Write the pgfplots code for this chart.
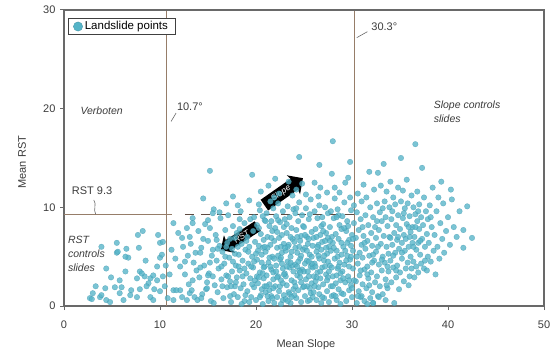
\documentclass[border=0pt]{standalone}
\usepackage{fontspec}
\setmainfont{Liberation Sans}
\usepackage{pgfplots}
\pgfplotsset{compat=1.18}
\usetikzlibrary{shapes.arrows}
\definecolor{axisgray}{RGB}{105,105,105}
\definecolor{labelgray}{RGB}{60,60,60}
\definecolor{thr}{RGB}{150,125,105}
\definecolor{dashc}{RGB}{95,75,65}
\definecolor{ptfill}{RGB}{85,180,200}
\definecolor{ptdraw}{RGB}{55,145,170}
\begin{document}
\begin{tikzpicture}
\useasboundingbox (-64pt,-50pt) rectangle (492pt,306pt);
\begin{axis}[
  scale only axis, width=480pt, height=296pt,
  xmin=0, xmax=50, ymin=0, ymax=30,
  xtick={0,10,20,30,40,50}, ytick={0,10,20,30},
  tick align=outside, xtick pos=bottom, ytick pos=left,
  major tick length=4pt,
  axis line style={draw=axisgray, line width=1.1pt},
  every tick/.style={draw=axisgray, line width=1pt},
  /pgf/number format/assume math mode=true,
  ticklabel style={font=\fontsize{11}{13}\selectfont, text=labelgray},
  xticklabel style={yshift=-7pt},
  yticklabel style={xshift=-1pt},
  xlabel={Mean Slope}, ylabel={Mean RST},
  label style={font=\fontsize{11}{13}\selectfont, text=labelgray},
  xlabel style={at={(axis description cs:0.504,-0.132)}, anchor=center},
  ylabel style={at={(axis description cs:-0.0875,0.486)}, anchor=center},
  legend style={at={(axis description cs:0.008,0.973)}, anchor=north west,
    draw=black!75, line width=0.8pt, font=\fontsize{11.5}{13}\selectfont,
    inner xsep=5pt, inner ysep=1.2pt},
  legend image code/.code={\draw[fill=ptfill, draw=ptfill!85!black, line width=0.4pt] (0.22cm,0cm) circle (4.6pt);},
  clip=false,
]
\addplot[only marks, mark=*, mark size=2.8pt,
  mark options={fill=ptfill, draw=ptdraw, line width=0.3pt, fill opacity=0.78, draw opacity=0.6}]
coordinates {
(2.7,0.8) (2.9,0.7) (3.0,1.3) (3.75,0.9) (3.9,1.1) (4.3,1.8) (4.4,0.6) (4.8,0.4) (5.3,1.9) (5.8,2.6)
(6.2,0.6) (6.4,3.5) (3.9,6.0) (5.5,6.4) (5.5,5.4) (6.5,5.8) (6.7,4.9) (6.4,5.0) (7.7,7.2) (8.2,7.6)
(7.8,5.9) (7.0,1.6) (7.9,1.7) (6.9,1.1) (9.0,0.9) (9.8,7.2) (10.0,6.4) (10.0,4.9) (9.7,4.0) (7.9,3.5)
(8.4,3.0) (9.0,2.8) (7.6,2.8) (8.8,2.3) (9.7,2.6) (10.3,3.0) (10.0,1.5) (11.4,8.4) (11.9,7.4) (12.4,6.0)
(11.6,4.8) (11.4,1.6) (12.1,1.6) (12.8,0.6) (4.4,3.8) (5.8,1.3) (7.6,0.9) (8.6,2.0) (8.1,3.3) (9.3,3.1)
(10.2,5.2) (10.3,6.5) (9.3,0.6) (10.5,2.0) (11.2,5.7) (5.6,5.5) (3.3,2.0) (4.9,2.9) (8.5,4.6) (9.4,1.7)
(10.6,4.1) (11.0,3.2) (10.8,0.8) (6.0,1.9)
(12.6,3.2) (12.9,5.1) (13.0,2.2) (13.2,6.3) (13.5,4.4) (13.6,0.9) (13.8,3.6) (14.0,7.6) (14.1,2.9) (14.3,5.9)
(14.4,1.2) (14.6,4.1) (14.7,8.3) (14.9,2.4) (15.0,6.6) (15.1,3.3) (15.3,0.5) (15.4,5.1) (15.6,9.8) (15.7,2.1)
(15.8,7.2) (15.9,4.6) (16.0,1.4) (16.1,3.8) (16.2,6.1) (16.3,8.9) (16.4,2.7) (16.5,5.5) (16.6,0.8) (16.7,4.3)
(16.8,7.7) (16.9,3.1) (17.0,1.9) (17.0,6.4) (17.1,9.2) (17.2,4.9) (17.3,2.5) (17.4,0.4) (17.5,5.8) (17.5,3.5)
(17.6,8.1) (17.7,1.2) (17.8,6.9) (17.9,4.1) (18.0,2.9) (18.0,7.4) (18.1,0.9) (18.2,5.2) (18.3,3.6) (18.4,9.6)
(18.4,1.8) (18.5,6.3) (18.6,4.6) (18.7,2.2) (18.8,8.4) (18.8,0.5) (18.9,5.7) (19.0,3.3) (19.1,7.0) (19.1,1.5)
(19.2,4.3) (19.3,6.0) (19.4,2.8) (19.4,8.8) (19.5,0.9) (19.6,5.0) (19.7,3.9) (19.7,7.6) (19.8,1.9) (19.9,6.5)
(19.9,2.6) (12.8,7.9) (13.1,1.3) (13.4,8.9) (13.7,5.4) (13.9,0.6) (14.2,3.9) (14.5,6.8) (14.8,1.7) (15.2,7.9)
(15.5,3.0) (15.6,0.3) (16.0,5.8) (16.2,9.5) (16.5,2.0) (16.8,5.0) (17.1,3.0) (17.3,6.8) (17.6,4.5) (17.8,2.0)
(18.1,6.0) (18.3,8.8) (18.6,3.0) (18.9,1.1) (19.2,5.5) (19.5,4.0) (19.8,9.0) (15.2,13.7) (19.6,13.3) (14.5,10.9)
(17.6,11.1) (18.1,10.2) (16.9,10.4) (19.3,10.7) (12.3,6.9) (12.1,4.0) (12.6,4.5) (11.7,1.6) (12.3,0.9) (11.4,0.6)
(13.3,1.6) (13.4,2.6) (13.1,7.0) (13.4,8.4) (14.3,0.8) (14.9,1.8) (15.0,3.1) (15.2,4.4) (14.2,5.4) (15.5,5.7)
(15.9,6.7) (15.0,8.7) (15.5,9.4)
(20.0,0.6) (20.1,4.7) (20.1,8.2) (20.2,2.3) (20.3,6.1) (20.3,10.3) (20.4,3.4) (20.5,1.1) (20.5,7.3) (20.6,5.2)
(20.7,9.1) (20.7,0.2) (20.8,2.8) (20.8,6.7) (20.9,4.0) (20.9,8.7) (20.2,5.6) (20.4,9.7) (20.6,1.7) (20.8,3.9)
(20.3,7.9) (20.6,4.4) (20.9,2.0) (20.1,3.0) (20.7,5.9) (20.5,11.6)
(21.0,1.4) (21.0,5.5) (21.1,3.1) (21.1,9.4) (21.2,7.0) (21.3,0.5) (21.3,4.4) (21.4,2.2) (21.4,8.1) (21.5,6.2)
(21.5,10.6) (21.6,1.0) (21.6,3.7) (21.7,5.0) (21.7,7.6) (21.8,2.7) (21.8,9.9) (21.9,0.3) (21.9,4.8) (21.9,6.6)
(21.2,5.9) (21.4,1.6) (21.6,8.6) (21.8,3.4) (21.1,2.0) (21.5,4.0) (21.7,0.8) (21.3,12.2) (21.9,11.0)
(22.0,2.0) (22.0,7.9) (22.1,4.1) (22.1,9.1) (22.2,0.9) (22.2,5.9) (22.3,3.0) (22.3,10.4) (22.4,6.9) (22.4,1.5)
(22.5,4.7) (22.5,8.5) (22.6,2.6) (22.6,0.2) (22.7,5.4) (22.7,7.2) (22.8,3.8) (22.8,9.6) (22.9,1.1) (22.9,6.3)
(22.1,3.5) (22.3,5.1) (22.5,2.0) (22.7,4.3) (22.9,8.0) (22.2,7.5) (22.6,6.0) (22.8,0.6) (22.4,11.4) (22.0,12.9)
(23.0,3.3) (23.0,8.8) (23.1,5.6) (23.1,0.7) (23.2,2.1) (23.2,7.4) (23.3,4.5) (23.3,10.1) (23.4,1.4) (23.4,6.2)
(23.5,3.9) (23.5,9.0) (23.6,0.3) (23.6,5.0) (23.7,2.6) (23.7,7.9) (23.8,4.1) (23.8,6.8) (23.9,1.7) (23.9,9.8)
(23.1,3.0) (23.3,6.0) (23.5,1.2) (23.7,5.5) (23.9,3.5) (23.2,8.3) (23.6,4.4) (23.8,11.2) (23.4,12.6)
(24.0,2.4) (24.0,6.5) (24.1,4.2) (24.1,9.4) (24.2,0.8) (24.2,7.7) (24.3,3.1) (24.3,5.4) (24.4,1.6) (24.4,8.6)
(24.5,6.0) (24.5,10.5) (24.6,2.9) (24.6,4.8) (24.7,0.4) (24.7,7.1) (24.8,3.7) (24.8,9.2) (24.9,5.7) (24.9,1.9)
(24.1,2.0) (24.3,7.0) (24.5,3.6) (24.7,5.1) (24.9,8.1) (24.2,11.8) (24.5,15.1) (24.8,12.4) (24.4,4.5) (24.6,6.6)
(25.0,3.5) (25.0,8.0) (25.1,1.0) (25.1,5.9) (25.2,2.7) (25.2,9.9) (25.3,4.6) (25.3,7.0) (25.4,0.5) (25.4,6.3)
(25.5,3.0) (25.5,8.8) (25.6,1.8) (25.6,5.2) (25.7,4.0) (25.7,10.8) (25.8,2.3) (25.8,7.5) (25.9,0.9) (25.9,6.1)
(25.1,4.3) (25.3,2.0) (25.5,6.8) (25.7,1.3) (25.9,3.9) (25.2,11.3) (25.6,9.3) (25.8,5.0) (25.4,3.5)
(26.0,1.4) (26.0,6.9) (26.1,4.3) (26.1,9.6) (26.2,2.5) (26.2,7.8) (26.3,0.6) (26.3,5.5) (26.4,3.4) (26.4,8.9)
(26.5,1.9) (26.5,6.2) (26.6,4.8) (26.6,10.2) (26.7,2.8) (26.7,7.2) (26.8,0.3) (26.8,5.7) (26.9,3.9) (26.9,9.0)
(26.1,12.5) (26.6,14.3) (26.7,12.0) (26.2,4.0) (26.4,6.0) (26.6,1.2) (26.8,8.1) (26.3,2.9) (26.9,6.5) (26.5,11.1)
(27.0,2.2) (27.0,8.3) (27.1,4.6) (27.1,0.8) (27.2,6.6) (27.2,10.0) (27.3,3.2) (27.3,7.4) (27.4,1.5) (27.4,5.3)
(27.5,9.4) (27.5,2.9) (27.6,0.4) (27.6,6.0) (27.7,4.1) (27.7,8.0) (27.8,2.0) (27.8,5.6) (27.9,13.4) (27.9,7.0)
(28.0,16.7) (27.2,4.0) (27.4,11.5) (27.6,3.5) (27.8,9.6) (27.3,5.9) (27.9,1.0) (27.5,6.9)
(28.0,3.0) (28.0,6.4) (28.1,1.1) (28.1,8.9) (28.2,4.8) (28.2,10.9) (28.3,2.3) (28.3,7.3) (28.4,0.6) (28.4,5.6)
(28.5,3.8) (28.5,9.8) (28.6,1.7) (28.6,6.8) (28.7,4.4) (28.7,8.2) (28.8,2.6) (28.8,0.2) (28.9,5.2) (28.9,7.8)
(28.2,12.0) (28.5,5.0) (28.7,11.5) (28.4,3.1) (28.6,9.2) (28.9,1.3)
(29.0,3.5) (29.0,9.1) (29.1,1.2) (29.1,6.0) (29.2,4.2) (29.2,10.5) (29.3,12.5) (29.3,2.4) (29.4,7.6) (29.4,0.5)
(29.5,5.1) (29.5,8.6) (29.6,13.0) (29.6,3.0) (29.7,6.7) (29.7,1.6) (29.8,14.6) (29.8,11.0) (29.8,4.7) (29.9,9.7)
(29.9,2.1) (30.0,7.2) (30.0,0.9) (30.1,5.6) (30.1,3.8) (30.2,8.4) (30.2,10.2) (29.5,6.4) (29.9,5.0) (30.0,1.8)
(29.2,7.9) (29.7,4.0)
(30.4,2.5) (30.4,6.9) (30.5,0.3) (30.5,9.5) (30.6,4.3) (30.6,11.4) (30.7,1.5) (30.7,7.7) (30.8,5.4) (30.8,3.1)
(30.9,8.8) (30.9,0.9) (31.0,6.2) (31.0,10.6) (31.1,2.2) (31.1,4.9) (31.2,12.3) (31.2,7.1) (31.3,0.5) (31.3,3.7)
(31.4,9.2) (31.4,5.8) (31.5,1.8) (31.5,11.0) (31.6,6.6) (31.6,4.0) (31.7,8.2) (31.7,2.8) (31.8,13.6) (31.8,5.1)
(31.9,0.8) (31.9,10.0) (32.0,3.4) (32.0,7.4) (32.1,6.1) (32.1,1.4) (32.2,9.0) (32.2,0.3) (32.3,4.6) (32.3,11.8)
(32.4,2.4) (32.4,8.0) (32.5,5.5) (32.5,6.9) (32.6,3.0) (32.6,10.4) (32.7,13.5) (32.7,1.0) (32.8,7.7) (32.8,4.2)
(32.9,9.5) (32.9,2.0) (33.0,6.3) (33.0,12.2) (33.1,3.6) (33.1,8.6) (33.2,5.0) (33.2,1.2) (33.3,14.4) (33.3,7.1)
(33.4,10.6) (33.4,4.4) (33.5,2.7) (33.5,9.0) (33.6,6.0) (33.6,11.6) (33.7,1.8) (33.7,8.1) (33.8,5.3) (33.8,3.5)
(33.9,10.0) (33.9,7.0) (34.0,4.6) (34.0,12.6) (34.1,2.4) (34.1,8.8) (34.2,6.2) (34.2,9.6) (34.3,3.9) (34.3,11.0)
(34.4,0.3) (34.4,7.4) (34.5,5.4) (34.5,10.3) (34.6,2.9) (34.6,8.2) (34.7,6.7) (34.7,4.1) (34.8,12.0) (34.8,9.2)
(34.9,5.8) (34.9,1.7) (35.0,7.8) (35.0,3.4) (35.1,15.0) (35.1,10.6) (35.2,6.4) (35.2,4.8) (35.3,8.9) (35.3,11.7)
(35.4,2.5) (35.4,7.2) (35.5,5.6) (35.5,9.9) (35.6,3.8) (35.6,6.8) (35.7,12.8) (35.7,8.3) (35.8,4.4) (35.8,10.4)
(35.9,6.0) (35.9,2.1) (36.0,3.0) (36.0,9.1) (36.1,7.5) (36.1,5.0) (36.2,11.2) (36.2,3.8) (36.3,8.0) (36.3,6.4)
(36.4,4.5) (36.4,10.0) (36.5,7.0) (36.5,2.9) (36.6,16.4) (36.6,9.3) (36.7,5.7) (36.7,4.0) (36.8,8.6) (36.8,11.6)
(36.9,6.4) (36.9,3.4) (37.0,7.8) (37.0,10.3) (37.1,5.2) (37.2,9.0) (37.2,4.3) (37.3,14.0) (37.3,6.8) (37.4,8.2)
(37.5,3.8) (37.5,11.0) (37.6,6.0) (37.7,9.6) (37.8,3.6) (37.8,7.3) (37.9,5.0) (37.9,8.8)
(31.0,1.0) (31.6,0.2) (32.8,0.9) (33.5,0.6) (32.2,0.3)
(38.0,6.4) (38.1,10.2) (38.2,4.5) (38.3,8.0) (38.4,12.0) (38.5,5.6) (38.6,7.2) (38.7,3.2) (38.8,9.6) (38.9,6.0)
(39.0,11.0) (39.1,4.8) (39.2,8.4) (39.4,6.8) (39.5,10.4) (39.6,5.4) (39.8,7.6) (40.0,9.0) (40.2,6.2) (40.4,10.8)
(40.6,8.0) (40.9,7.0) (41.2,9.6) (41.6,5.9) (41.6,7.7) (42.0,10.1) (42.5,6.9) (39.3,12.6) (40.3,11.8)
(17.3,1.0) (17.9,2.4) (18.5,0.2) (18.2,4.0) (19.0,6.6) (19.6,2.2) (20.4,0.9) (20.0,5.3) (20.7,3.3) (21.2,1.0)
(21.6,6.9) (21.0,8.6) (22.2,2.9) (22.6,4.9) (22.9,3.2) (23.3,0.5) (23.0,5.9) (23.6,7.0) (24.0,1.1) (24.3,4.0)
(24.7,2.4) (24.2,9.9) (25.0,2.0) (25.3,5.6) (25.6,0.6) (25.8,4.3) (26.1,2.0) (26.3,7.0) (26.7,3.5) (26.9,0.9)
(27.1,5.1) (27.4,2.6) (27.7,6.6) (27.9,3.9) (28.1,5.9) (28.3,1.0) (28.6,4.0) (28.9,6.4) (29.1,2.8) (29.4,4.6)
(29.6,8.1) (29.9,6.1) (30.2,2.6) (30.5,5.0) (30.9,3.6) (31.3,6.4) (31.8,2.1) (32.2,5.2) (32.6,8.6) (33.1,4.7)
(33.6,2.1) (34.0,6.9) (34.6,3.6) (35.2,5.4) (35.9,8.0) (36.4,6.0) (36.9,9.6)
(16.4,4.0) (16.9,6.0) (17.4,2.0) (17.8,5.3) (18.3,7.8) (18.8,3.8) (19.3,0.4) (19.8,4.5) (20.3,2.9) (20.9,6.0)
(21.4,4.9) (21.8,1.8) (22.3,8.7) (22.8,2.3) (23.2,4.0) (23.7,0.9) (24.1,5.9) (24.6,3.4) (25.1,7.2) (25.5,4.5)
(26.0,3.0) (26.5,5.1) (27.0,7.6) (27.5,4.5) (28.0,2.0) (28.4,9.0) (28.8,3.3) (29.3,5.6) (29.7,2.6) (30.1,6.8)
(30.6,1.0) (31.1,8.0) (31.6,3.2) (32.1,4.4) (32.7,6.0) (33.2,9.9) (33.7,4.0) (34.3,5.1) (34.8,7.0) (35.4,9.4)
(36.0,7.0) (36.6,8.0) (37.1,6.6) (37.6,4.6) (38.2,9.0)
};
\addlegendentry{Landslide points}
% threshold lines
\addplot[thr, line width=1.1pt, forget plot] coordinates {(10.7,0) (10.7,30)};
\addplot[thr, line width=1.1pt, forget plot] coordinates {(30.3,0) (30.3,30)};
\addplot[thr, line width=1.1pt, forget plot] coordinates {(0,9.3) (11.3,9.3)};
\addplot[dashc, line width=1.1pt, dash pattern=on 9pt off 7pt, forget plot] coordinates {(12.6,9.3) (30.3,9.3)};
% annotations
\draw[axisgray, line width=0.6pt] (axis cs:11.15,18.7) -- (axis cs:11.67,19.55);
\node[anchor=west, inner sep=0pt, font=\fontsize{11}{13}\selectfont, text=labelgray] at (axis cs:11.75,20.2) {10.7°};
\draw[axisgray, line width=0.6pt] (axis cs:30.5,27.2) -- (axis cs:31.6,27.8);
\node[anchor=west, inner sep=0pt, font=\fontsize{11}{13}\selectfont, text=labelgray] at (axis cs:32.0,28.3) {30.3°};
\draw[axisgray, line width=0.6pt] (axis cs:3.1,10.75) .. controls (axis cs:3.45,10.3) and (axis cs:3.0,9.8) .. (axis cs:3.3,9.3);
\node[anchor=west, inner sep=0pt, font=\fontsize{11}{13}\selectfont, text=labelgray] at (axis cs:0.8,11.65) {RST 9.3};
\node[anchor=west, inner sep=0pt, font=\itshape\fontsize{10.5}{12}\selectfont, text=labelgray] at (axis cs:1.7,19.75) {Verboten};
\node[anchor=west, inner sep=0pt, align=left, font=\itshape\fontsize{10.5}{14}\selectfont, text=labelgray] at (axis cs:38.5,19.65) {Slope controls\\slides};
\node[anchor=west, inner sep=0pt, align=left, font=\itshape\fontsize{10.5}{14}\selectfont, text=labelgray] at (axis cs:0.4,5.3) {RST\\controls\\slides};
\node[single arrow, fill=black, text=white, font=\itshape\fontsize{8.5}{9}\selectfont,
  minimum height=47pt, inner xsep=1pt, inner ysep=2.4pt, single arrow head extend=5pt, single arrow head indent=1pt, rotate=35] at (axis cs:22.6,11.4) {Slope};
\node[single arrow, shape border rotate=180, fill=black, text=white, font=\itshape\fontsize{8.5}{9}\selectfont,
  minimum height=44pt, inner xsep=1pt, inner ysep=2.4pt, single arrow head extend=5pt, single arrow head indent=1pt, rotate=33] at (axis cs:18.5,7.05) {RST};
% frame top and right
\addplot[axisgray, line width=1.1pt, forget plot] coordinates {(0,30) (50,30) (50,0)};
\end{axis}
\end{tikzpicture}
\end{document}
